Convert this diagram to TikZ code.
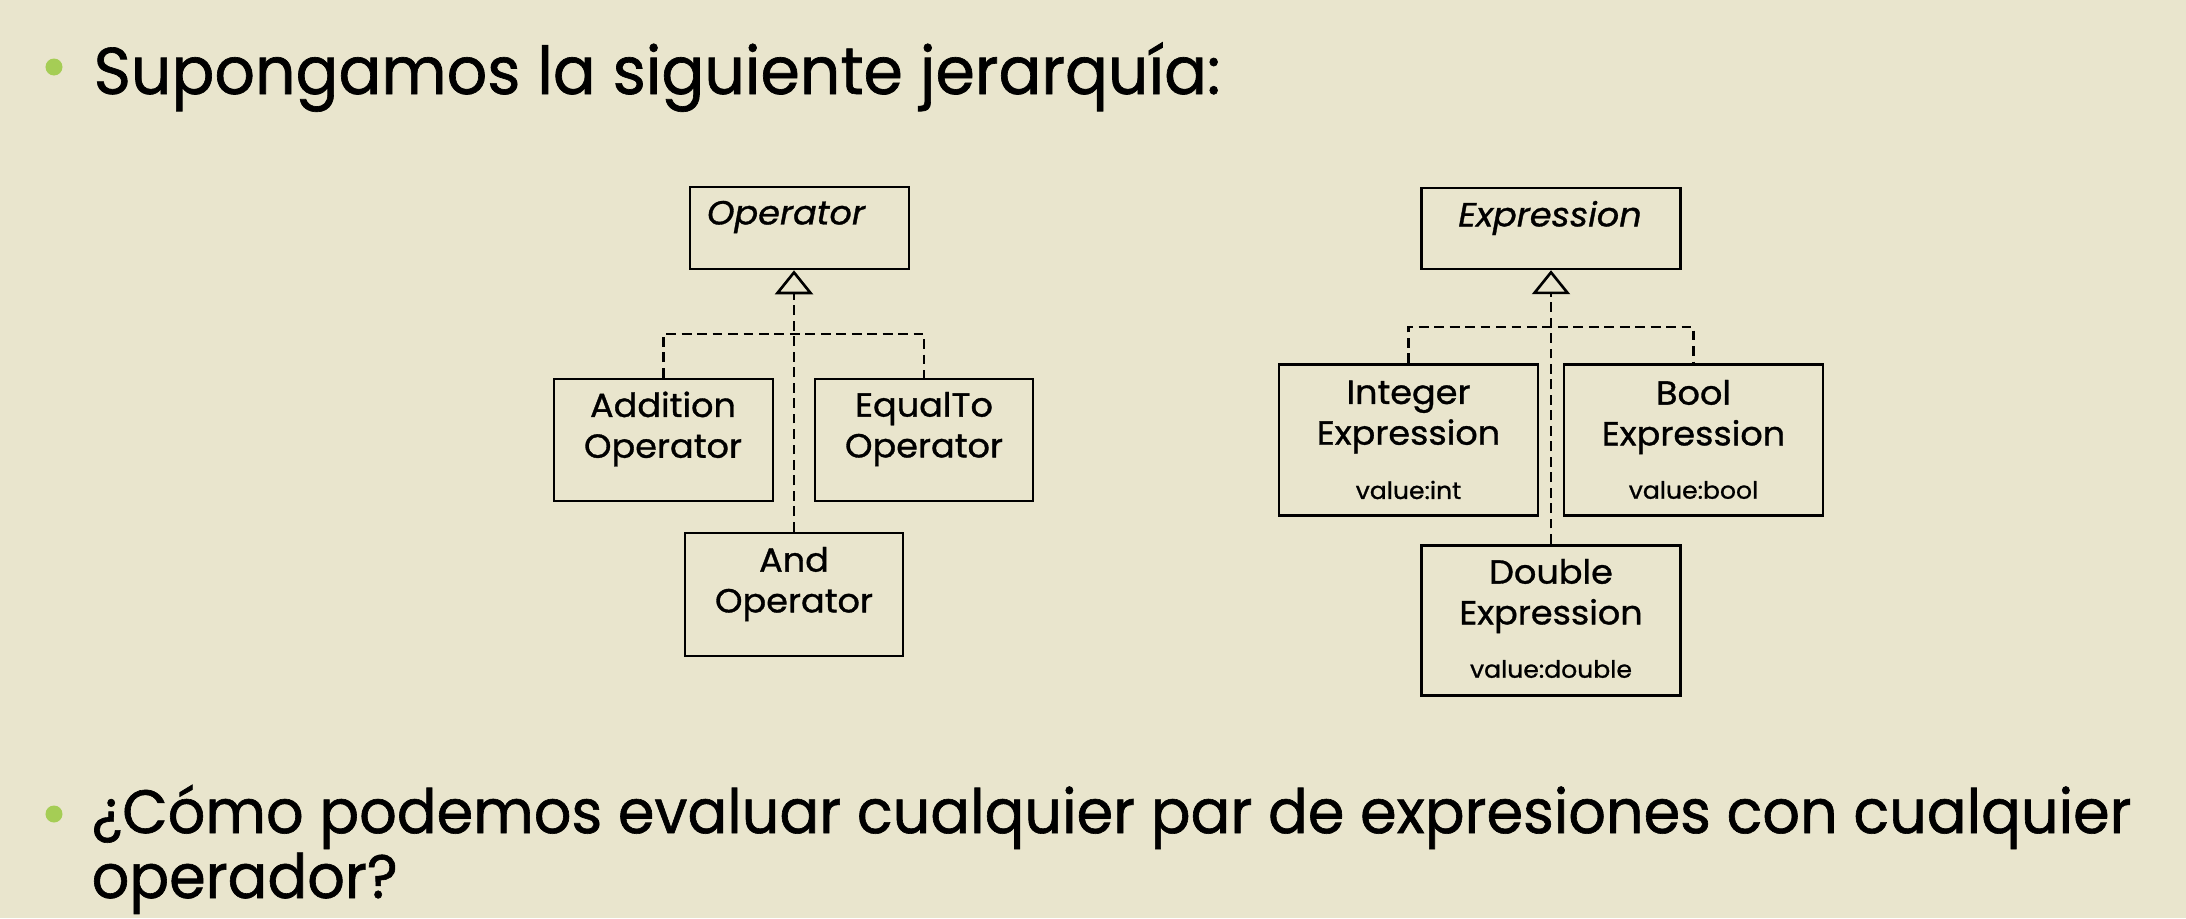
\documentclass[tikz,border=0pt]{standalone}
\usepackage{fontspec}
\setmainfont{Poppins}[FakeStretch=0.96,FakeBold=1.0]
\newfontfamily\boxfont{Poppins}[FakeStretch=1.05,FakeBold=1.0]
\usetikzlibrary{arrows.meta}

\definecolor{slidebg}{RGB}{233,229,205}
\definecolor{bulletgreen}{RGB}{165,205,85}

\tikzset{
  umlbox/.style={draw=black,line width=0.75pt,fill=slidebg},
  boxtext/.style={align=center,font=\boxfont\fontsize{9.5pt}{11.6pt}\selectfont,inner sep=0pt},
  abstext/.style={boxtext,font=\boxfont\fontsize{9.5pt}{11.6pt}\selectfont\itshape},
  attrtext/.style={font=\boxfont\fontsize{6.8pt}{8pt}\selectfont,inner sep=0pt},
  dashline/.style={line width=0.75pt,dash pattern=on 2.8pt off 1.6pt},
  inherit/.style={dashline,-{Triangle[open,width=0.38cm,length=0.24cm,line width=0.75pt]}}
}

\begin{document}
\begin{tikzpicture}
    \fill[slidebg] (0,0) rectangle (21.86,-9.18);
    \useasboundingbox (0,0) rectangle (21.86,-9.18);

    % title
    \fill[bulletgreen] (0.54,-0.67) circle (0.085);
    \node[anchor=base west,inner sep=0pt,font=\fontsize{18.8pt}{22pt}\selectfont] (title) at (0.93,-0.94) {Supongamos la siguiente jerarquía:};

    % operators
    \node[umlbox,minimum width=2.19cm,minimum height=0.82cm] (Op) at (7.995,-2.28) {};
    \node[abstext] (OpT) at (7.86,-2.17) {Operator};
    \node[umlbox,minimum width=2.19cm,minimum height=1.22cm] (Add) at (6.635,-4.40) {};
    \node[boxtext] (AddT) at (6.63,-4.29) {Addition\\Operator};
    \node[umlbox,minimum width=2.18cm,minimum height=1.22cm] (Eq) at (9.24,-4.40) {};
    \node[boxtext] (EqT) at (9.24,-4.29) {EqualTo\\Operator};
    \node[umlbox,minimum width=2.18cm,minimum height=1.23cm] (And) at (7.94,-5.945) {};
    \node[boxtext] (AndT) at (7.94,-5.84) {And\\Operator};
    \coordinate (opbar) at (7.94,-3.34);
    \draw[dashline] (Add.north) |- (opbar) -| (Eq.north);
    \draw[inherit] (And.north) -- (And.north |- Op.south);

    % expressions
    \node[umlbox,minimum width=2.585cm,minimum height=0.81cm] (Ex) at (15.51,-2.284) {};
    \node[abstext] (ExT) at (15.50,-2.18) {Expression};
    \node[umlbox,minimum width=2.59cm,minimum height=1.51cm] (Int) at (14.085,-4.40) {};
    \node[boxtext] (IntT) at (14.085,-4.17) {Integer\\Expression};
    \node[attrtext] (IntV) at (14.085,-4.90) {value:int};
    \node[umlbox,minimum width=2.59cm,minimum height=1.51cm] (Bool) at (16.935,-4.40) {};
    \node[boxtext] (BoolT) at (16.935,-4.17) {Bool\\Expression};
    \node[attrtext] (BoolV) at (16.935,-4.90) {value:bool};
    \node[umlbox,minimum width=2.585cm,minimum height=1.505cm] (Dbl) at (15.51,-6.205) {};
    \node[boxtext] (DblT) at (15.51,-5.96) {Double\\Expression};
    \node[attrtext] (DblV) at (15.51,-6.69) {value:double};
    \coordinate (exbar) at (15.51,-3.27);
    \draw[dashline] (Int.north) |- (exbar) -| (Bool.north);
    \draw[inherit] (Dbl.north) -- (Dbl.north |- Ex.south);

    % question
    \fill[bulletgreen] (0.54,-8.14) circle (0.085);
    \node[anchor=base west,inner sep=0pt,align=left,font=\fontsize{17.45pt}{16.45pt}\selectfont] (question) at (0.91,-8.98) {¿Cómo podemos evaluar cualquier par de expresiones con cualquier\\operador?};
\end{tikzpicture}
\end{document}
